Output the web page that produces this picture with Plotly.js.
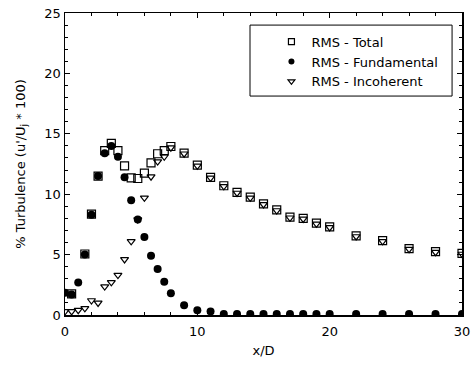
<!DOCTYPE html>
<html>
<head>
<meta charset="utf-8">
<script src="https://cdn.plot.ly/plotly-3.0.1.min.js"></script>
<style>html,body{margin:0;padding:0;background:#fff;}#chart{width:473px;height:370px;}</style>
</head>
<body>
<div id="chart"></div>
<script>
// x/D stations and % turbulence values
const xTotal = [0.5,1.5,2,2.5,3,3.5,4,4.5,5,5.5,6,6.5,7,7.5,8,9,10,11,12,13,14,15,16,17,18,19,20,22,24,26,28,30];
const rmsTotal = [1.75,5.05,8.35,11.5,13.6,14.2,13.6,12.35,11.35,11.3,11.75,12.6,13.35,13.6,13.95,13.4,12.4,11.4,10.7,10.15,9.75,9.2,8.7,8.1,8.0,7.6,7.3,6.55,6.15,5.5,5.25,5.1];

const xFund = [0,0.5,1,1.5,2,2.5,3,3.5,4,4.5,5,5.5,6,6.5,7,7.5,8,9,10,11,12,13,14,15,16,17,18,19,20,22,24,26,28,30];
const rmsFund = [1.85,1.7,2.7,5.0,8.3,11.5,13.4,14.0,13.1,11.4,9.5,7.9,6.45,4.9,3.8,2.75,1.8,0.8,0.4,0.3,0.08,0.08,0.08,0.08,0.08,0.08,0.08,0.08,0.08,0.08,0.08,0.08,0.08,0.08];

const xInc = [0,0.5,1,1.5,2,2.5,3,3.5,4,4.5,5,5.5,6,6.5,7,7.5,8,9,10,11,12,13,14,15,16,17,18,19,20,22,24,26,28,30];
const rmsInc = [0.3,0.3,0.4,0.55,1.2,1.0,2.35,2.7,3.3,4.6,6.1,7.9,9.7,11.45,12.7,13.1,13.85,13.35,12.35,11.35,10.65,10.1,9.7,9.15,8.65,8.05,7.95,7.55,7.25,6.5,6.1,5.45,5.2,5.05];

const seriesNames = ['RMS - Total','RMS - Fundamental','RMS - Incoherent'];

const FONT = 'DejaVu Sans, Liberation Sans, Arial, sans-serif';

const mk = [
  {symbol:'square-open', size:8, color:'#000', line:{width:1.2, color:'#000'}},
  {symbol:'circle', size:8, color:'#000'},
  {symbol:'triangle-down-open', size:7, color:'#000', line:{width:1.2, color:'#000'}}
];
const mkLegend = [
  {symbol:'square-open', size:6, color:'#000', line:{width:1.2, color:'#000'}},
  {symbol:'circle', size:6, color:'#000'},
  {symbol:'triangle-down-open', size:6, color:'#000', line:{width:1.2, color:'#000'}}
];
const xs = [xTotal, xFund, xInc];
const ys = [rmsTotal, rmsFund, rmsInc];

const traces = [];
for (let i = 0; i < 3; i++) {
  traces.push({x:xs[i], y:ys[i], name:seriesNames[i], mode:'markers', type:'scatter',
               marker:mk[i], showlegend:false});
}
for (let i = 0; i < 3; i++) {
  traces.push({x:[null], y:[null], name:seriesNames[i], mode:'markers', type:'scatter',
               marker:mkLegend[i], showlegend:true});
}

const axisCommon = {
  showgrid:false, zeroline:false, showline:true, mirror:'allticks',
  linecolor:'#000', linewidth:1.5, ticks:'inside', ticklen:5, tickcolor:'#000',
  tickfont:{family:FONT, size:13, color:'#000'}
};

const layout = {
  width:473, height:370,
  margin:{l:65, r:11, t:13, b:55},
  paper_bgcolor:'#fff', plot_bgcolor:'#fff',
  font:{family:FONT, color:'#000'},
  showlegend:true,
  legend:{x:0.52, y:0.955, xanchor:'left', yanchor:'top', borderwidth:0,
          bgcolor:'rgba(0,0,0,0)', font:{family:FONT, size:13, color:'#000'}, itemwidth:30, tracegroupgap:0},
  shapes:[{type:'rect', xref:'paper', yref:'paper', x0:0.466, x1:0.975, y0:0.725, y1:0.960,
           line:{color:'#000', width:1}, fillcolor:'rgba(0,0,0,0)'}],
  xaxis:Object.assign({}, axisCommon, {range:[0,30], tickvals:[0,10,20,30], ticklabelstandoff:4,
    minor:{dtick:2, ticks:'inside', ticklen:3, tickcolor:'#000'},
    title:{text:'x/D', font:{family:FONT, size:13, color:'#000'}, standoff:8}}),
  yaxis:Object.assign({}, axisCommon, {range:[0,25], tickvals:[0,5,10,15,20,25],
    minor:{dtick:1, ticks:'inside', ticklen:3, tickcolor:'#000'},
    title:{text:"% Turbulence (u'/U<sub>j</sub> * 100)", font:{family:FONT, size:13, color:'#000'}, standoff:16}})
};

Plotly.newPlot('chart', traces, layout, {displayModeBar:false, staticPlot:true});
</script>
</body>
</html>
